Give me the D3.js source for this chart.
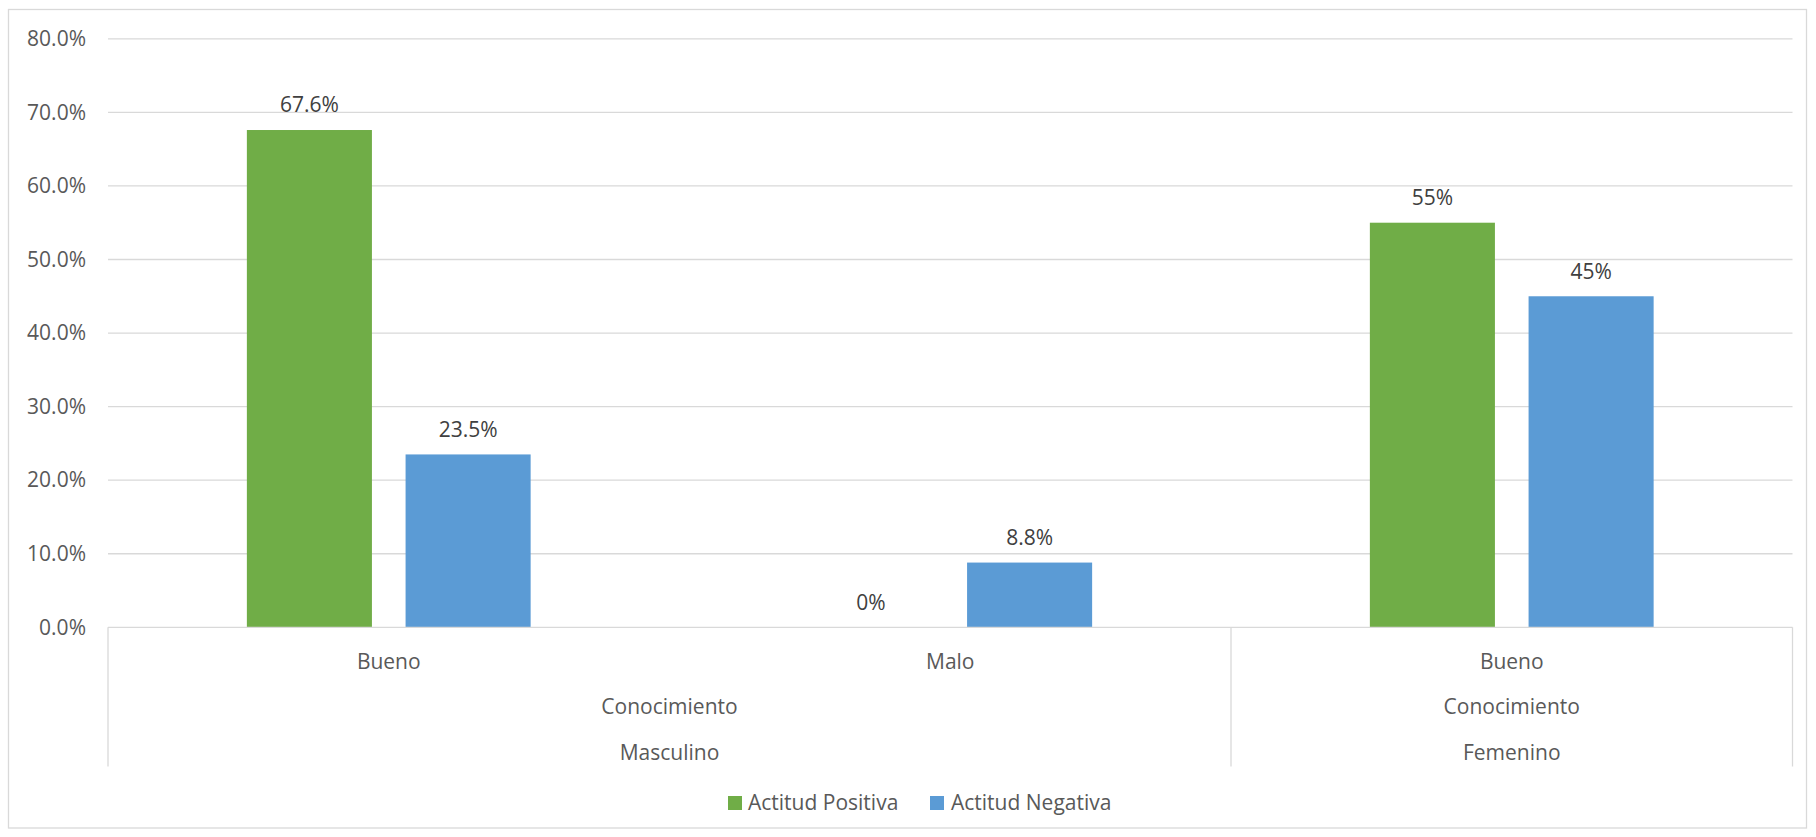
<!DOCTYPE html>
<html>
<head>
<meta charset="utf-8">
<script src="https://cdn.jsdelivr.net/npm/d3@7"></script>
<style>
  html, body { margin: 0; padding: 0; background: #fff; }
  svg { display: block; font-family: "Open Sans", "Noto Sans", sans-serif; }
</style>
</head>
<body>
<svg id="chart" width="1816" height="837"></svg>
<script>
// ---- data ----
const categories = ["Bueno", "Malo", "Bueno"];
const groupLevel2 = [
  { label: "Conocimiento", from: 0, to: 1 },
  { label: "Conocimiento", from: 2, to: 2 }
];
const groupLevel3 = [
  { label: "Masculino", from: 0, to: 1 },
  { label: "Femenino", from: 2, to: 2 }
];
const seriesNames = ["Actitud Positiva", "Actitud Negativa"];
const positivaValues = [0.676, 0.0, 0.55];
const negativaValues = [0.235, 0.088, 0.45];
const positivaLabels = ["67.6%", "0%", "55%"];
const negativaLabels = ["23.5%", "8.8%", "45%"];
const yTicks = [0, 0.1, 0.2, 0.3, 0.4, 0.5, 0.6, 0.7, 0.8];
const colors = ["#70AD47", "#5B9BD5"];

// ---- layout ----
const svg = d3.select("#chart");
const plotLeft = 108, plotRight = 1792.5, plotTop = 38.8, plotBottom = 627.3;
const axisBottom = 766.5;

svg.append("rect")
  .attr("x", 8.5).attr("y", 9.5).attr("width", 1798).attr("height", 818.5)
  .attr("fill", "#fff").attr("stroke", "#D9D9D9").attr("stroke-width", 1.3);

const y = d3.scaleLinear().domain([0, 0.8]).range([plotBottom, plotTop]);
const x0 = d3.scaleBand().domain(d3.range(categories.length)).range([plotLeft, plotRight]).padding(0);
const x1 = d3.scaleBand().domain(seriesNames).range([0, x0.bandwidth()])
  .paddingInner(0.212).paddingOuter(0.875);

// gridlines
svg.append("g").selectAll("line").data(yTicks.filter(d => d > 0)).join("line")
  .attr("x1", plotLeft).attr("x2", plotRight)
  .attr("y1", d => y(d)).attr("y2", d => y(d))
  .attr("stroke", "#D9D9D9").attr("stroke-width", 1.3);

// y axis labels
const yAxis = d3.axisLeft(y).tickValues(yTicks).tickFormat(d3.format(".1%")).tickSize(0).tickPadding(0);
const gy = svg.append("g").attr("transform", `translate(${plotLeft - 22},0)`).call(yAxis);
gy.select(".domain").remove();
gy.selectAll("text").attr("fill", "#595959").attr("font-size", "21px")
  .attr("font-family", "'Open Sans', 'Noto Sans', sans-serif");

// bars
const seriesData = [positivaValues, negativaValues];
const seriesLabels = [positivaLabels, negativaLabels];
const rows = [];
categories.forEach((c, i) => {
  seriesNames.forEach((s, j) => {
    rows.push({ i, s, j, v: seriesData[j][i], label: seriesLabels[j][i] });
  });
});

svg.append("g").selectAll("rect").data(rows.filter(d => d.v > 0)).join("rect")
  .attr("x", d => x0(d.i) + x1(d.s))
  .attr("y", d => y(d.v))
  .attr("width", x1.bandwidth())
  .attr("height", d => y(0) - y(d.v))
  .attr("fill", d => colors[d.j]);

// data labels
svg.append("g").selectAll("text").data(rows).join("text")
  .attr("x", d => x0(d.i) + x1(d.s) + x1.bandwidth() / 2)
  .attr("y", d => y(d.v) - 25)
  .attr("dy", "0.35em")
  .attr("text-anchor", "middle")
  .attr("font-size", "21px")
  .attr("fill", "#404040")
  .text(d => d.label);

// x axis baseline
svg.append("line")
  .attr("x1", plotLeft).attr("x2", plotRight)
  .attr("y1", plotBottom).attr("y2", plotBottom)
  .attr("stroke", "#D9D9D9").attr("stroke-width", 1.3);

// group separators (vertical)
const sepXs = [x0(0), x0(2), x0(2) + x0.bandwidth()];
svg.append("g").selectAll("line").data(sepXs).join("line")
  .attr("x1", d => d).attr("x2", d => d)
  .attr("y1", plotBottom).attr("y2", axisBottom)
  .attr("stroke", "#D9D9D9").attr("stroke-width", 1.3);

// level 1 labels
svg.append("g").selectAll("text").data(categories).join("text")
  .attr("x", (d, i) => x0(i) + x0.bandwidth() / 2)
  .attr("y", 661.5).attr("dy", "0.35em")
  .attr("text-anchor", "middle").attr("font-size", "21px").attr("fill", "#595959")
  .text(d => d);

function groupLabels(groups, yPos) {
  svg.append("g").selectAll("text").data(groups).join("text")
    .attr("x", d => (x0(d.from) + x0(d.to) + x0.bandwidth()) / 2)
    .attr("y", yPos).attr("dy", "0.35em")
    .attr("text-anchor", "middle").attr("font-size", "21px").attr("fill", "#595959")
    .text(d => d.label);
}
groupLabels(groupLevel2, 706.5);
groupLabels(groupLevel3, 752.5);

// legend
const legend = svg.append("g");
const legendItems = [
  { name: seriesNames[0], color: colors[0], sx: 728, tx: 748 },
  { name: seriesNames[1], color: colors[1], sx: 930, tx: 951 }
];
legendItems.forEach(it => {
  legend.append("rect").attr("x", it.sx).attr("y", 796).attr("width", 14).attr("height", 14).attr("fill", it.color);
  legend.append("text").attr("x", it.tx).attr("y", 803).attr("dy", "0.35em")
    .attr("font-size", "21px").attr("fill", "#595959").text(it.name);
});
</script>
</body>
</html>
